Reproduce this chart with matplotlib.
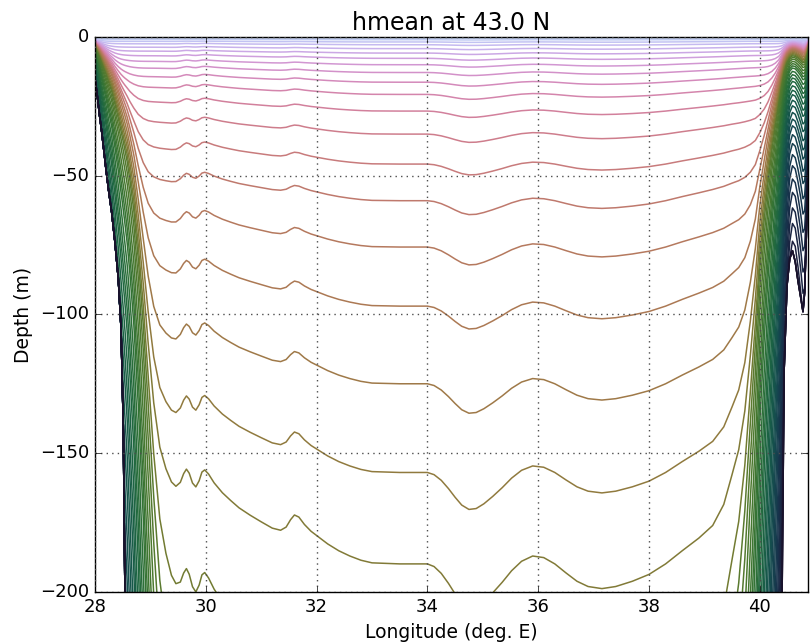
import numpy as np
import matplotlib
matplotlib.use("Agg")
import matplotlib.pyplot as plt

# longitude knots (deg E), shared by all the profiles below
lon = [28.00, 28.04, 28.08, 28.12, 28.16, 28.20, 28.25, 28.30, 28.36, 28.42,
       28.47, 28.51, 28.54, 28.58, 28.63, 28.70, 28.78, 28.87, 28.96, 29.06,
       29.17, 29.28, 29.38, 29.46, 29.54, 29.60, 29.65, 29.70, 29.76, 29.82,
       29.88, 29.93, 29.98, 30.05, 30.15, 30.30, 30.45, 30.60, 30.80, 31.00,
       31.20, 31.35, 31.45, 31.53, 31.60, 31.68, 31.78, 31.90, 32.05, 32.20,
       32.40, 32.60, 32.80, 33.00, 33.50, 34.00, 34.12, 34.25, 34.38, 34.50,
       34.62, 34.75, 34.88, 35.02, 35.18, 35.35, 35.52, 35.70, 35.90, 36.10,
       36.30, 36.50, 36.70, 36.90, 37.15, 37.40, 37.70, 38.00, 38.30, 38.60,
       38.90, 39.15, 39.35, 39.50, 39.62, 39.73, 39.83, 39.92, 40.00, 40.08,
       40.15, 40.22, 40.28, 40.34, 40.39, 40.44, 40.49, 40.54, 40.59, 40.64,
       40.69, 40.74, 40.78, 40.81, 40.84, 40.87, 40.90]

# open-basin undulation of the interfaces (depth / depth at 33E)
shape = [0.88, 0.88, 0.88, 0.88, 0.88, 0.88, 0.88, 0.88, 0.88, 0.88,
         0.88, 0.88, 0.88, 0.88, 0.88, 0.88, 0.88, 0.88, 0.88, 0.88,
         0.882, 0.885, 0.888, 0.886, 0.868, 0.846, 0.834, 0.84, 0.858, 0.864,
         0.85, 0.832, 0.827, 0.834, 0.85, 0.868, 0.882, 0.895, 0.908, 0.92,
         0.932, 0.936, 0.93, 0.916, 0.907, 0.911, 0.925, 0.938, 0.95, 0.962,
         0.975, 0.985, 0.993, 0.998, 1.0, 1.0, 1.005, 1.018, 1.037, 1.057,
         1.075, 1.085, 1.083, 1.072, 1.055, 1.035, 1.013, 0.995, 0.985, 0.988,
         1.0, 1.017, 1.033, 1.043, 1.047, 1.043, 1.033, 1.02, 1.0, 0.975,
         0.952, 0.932, 0.915, 0.90, 0.89, 0.88, 0.873, 0.87, 0.87, 0.87,
         0.87, 0.87, 0.87, 0.87, 0.87, 0.87, 0.87, 0.87, 0.87, 0.87,
         0.87, 0.87, 0.87, 0.87, 0.87, 0.87, 0.87]

# bottom depth (m): the envelope the deepest interfaces lie on
bottom = [-15, -21, -28, -34, -41, -48, -56, -63, -74, -87,
          -105, -140, -200, -500, -900, -1300, -1700, -2000, -2000, -2000,
          -2000, -2000, -2000, -2000, -2000, -2000, -2000, -2000, -2000, -2000,
          -2000, -2000, -2000, -2000, -2000, -2000, -2000, -2000, -2000, -2000,
          -2000, -2000, -2000, -2000, -2000, -2000, -2000, -2000, -2000, -2000,
          -2000, -2000, -2000, -2000, -2000, -2000, -2000, -2000, -2000, -2000,
          -2000, -2000, -2000, -2000, -2000, -2000, -2000, -2000, -2000, -2000,
          -2000, -2000, -2000, -2000, -2000, -2000, -2000, -2000, -2000, -2000,
          -2000, -2000, -2000, -2000, -2000, -2000, -2000, -2000, -2000, -2000,
          -2000, -2000, -2000, -1200, -230, -120, -90, -80, -77, -81,
          -88, -94, -99, -92, -72, -45, -20]

# coastal reference depth (m) for the terrain-following part of the layers
coast_ref = [45, 64, 86, 110, 135, 160, 195, 230, 285, 345,
             400, 445, 480, 530, 610, 740, 950, 1250, 1650, 2200,
             2900, 3500, 4100, 4500, 5000, 5300, 5600, 5900, 6200, 6500,
             6900, 7200, 7500, 8000, 8600, 9500, 10500, 12000, 15000, 20000,
             20000, 20000, 20000, 20000, 20000, 20000, 20000, 20000, 20000, 20000,
             20000, 20000, 20000, 20000, 20000, 20000, 20000, 20000, 20000, 20000,
             20000, 20000, 20000, 20000, 20000, 20000, 20000, 20000, 20000, 20000,
             20000, 20000, 20000, 20000, 20000, 20000, 20000, 20000, 20000, 20000,
             14000, 9000, 5000, 3500, 2900, 2300, 1750, 1350, 1000, 780,
             620, 480, 380, 290, 215, 150, 110, 88, 80, 82,
             90, 100, 110, 108, 90, 60, 30]

# interface depth at 33E (m) and its coastal fraction, top to bottom
iface_depth = [0.4, 1.0, 1.8, 2.8, 4.2, 5.8, 7.7, 10.0, 12.8, 16.3,
               20.7, 26.7, 35.0, 45.8, 59.0, 75.7, 97.0, 125, 157, 190,
               236,
               280, 320, 370, 420, 480, 540, 610, 690, 780, 880,
               990, 1100, 1200, 1300, 1400, 1500, 1600, 1700, 1800, 1900,
               1950, 1960, 1970, 1975, 1980, 1985, 1988, 1990, 1992, 1994,
               1996, 1998]
iface_sigma = [0.010, 0.013, 0.016, 0.019, 0.022, 0.025, 0.028, 0.031, 0.034, 0.037,
               0.040, 0.043, 0.046, 0.049, 0.052, 0.056, 0.060, 0.065, 0.070, 0.075,
               0.080,
               0.085, 0.092, 0.10, 0.11, 0.12, 0.13, 0.14, 0.155, 0.17, 0.185,
               0.20, 0.22, 0.24, 0.26, 0.285, 0.31, 0.34, 0.37, 0.40, 0.44,
               0.48, 0.53, 0.58, 0.64, 0.70, 0.77, 0.84, 0.92, 1.0, 1.1,
               1.2, 1.3]

n_open = 21  # interfaces that show up in the open basin

assert len(lon) == len(shape) == len(bottom) == len(coast_ref)
assert len(iface_depth) == len(iface_sigma)

lon_a = np.array(lon)
shape_a = np.array(shape)
bottom_a = np.array(bottom, dtype=float)
coast_a = np.array(coast_ref, dtype=float)

plt.style.use("classic")
fig = plt.figure(figsize=(8.1, 6.43), dpi=100, facecolor="white")
ax = fig.add_axes([0.1173, 0.0793, 0.8802, 0.8632])

n_deep = len(iface_depth) - n_open
cvals = np.concatenate([np.linspace(0.82, 0.44, n_open),
                        np.linspace(0.41, 0.09, n_deep)])
colors = plt.cm.cubehelix(cvals)

p = 3.0
for k, (d, sg) in enumerate(zip(iface_depth, iface_sigma)):
    a = d * shape_a
    b = sg * coast_a
    depth = (a ** -p + b ** -p) ** (-1.0 / p)
    z = np.maximum(-depth, bottom_a)
    ax.plot(lon_a, z, color=colors[k], lw=1.1)

ax.set_xlim(28, 40.87)
ax.set_ylim(-200, 0)
ax.set_xticks([28, 30, 32, 34, 36, 38, 40])
ax.set_yticks([0, -50, -100, -150, -200])
ax.grid(True, color="0.3", linestyle=":", linewidth=1.0)
ax.tick_params(labelsize=13)
ax.set_title("hmean at 43.0 N", fontsize=17)
ax.set_xlabel("Longitude (deg. E)", fontsize=13.5)
ax.set_ylabel("Depth (m)", fontsize=13.5)

fig.savefig("out.png", dpi=100, facecolor="white")
